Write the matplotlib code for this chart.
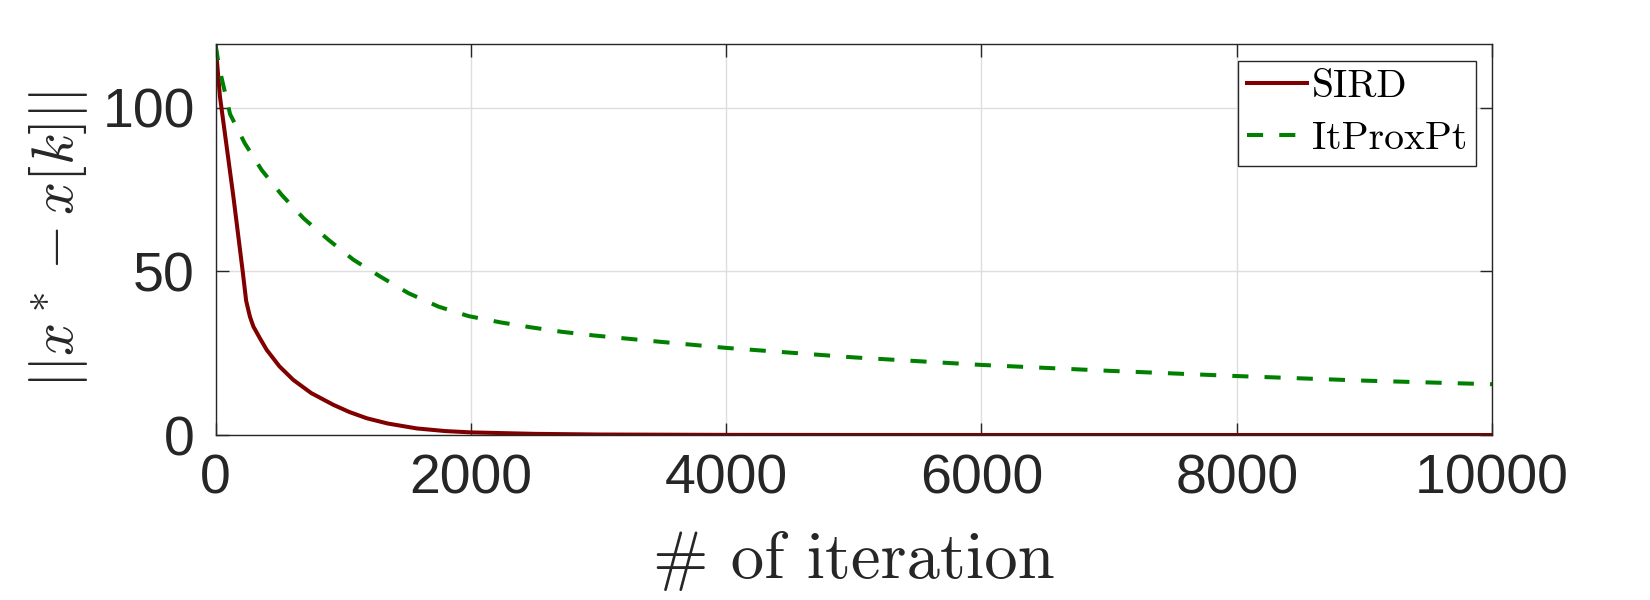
import matplotlib
matplotlib.use("Agg")
import matplotlib.pyplot as plt
from matplotlib.font_manager import FontProperties

# ---- data ----
sird_iter = [0, 35, 140, 213, 240, 257, 270, 297, 350, 401, 500, 610, 750, 924,
             1050, 1186, 1350, 1578, 1800, 2000, 2500, 3000, 4000, 5000, 7000, 10000]
sird_err = [119.3, 103.3, 72.8, 50.0, 41.0, 38.2, 36.1, 33.1, 29.4, 26.0, 21.0,
            16.8, 12.8, 9.2, 7.0, 5.1, 3.5, 2.0, 1.2, 0.8, 0.35, 0.15, 0.04,
            0.01, 0.0, 0.0]

prox_iter = [0, 30, 114, 229, 362, 519, 689, 885, 1081, 1290, 1512, 1747, 1983,
             2231, 2467, 2715, 2963, 3500, 4000, 5000, 6000, 7000, 8000, 9000, 10000]
prox_err = [119.3, 112.0, 98.0, 89.1, 80.9, 73.3, 66.2, 59.6, 53.5, 48.4, 43.3,
            39.2, 36.3, 34.4, 32.9, 31.5, 30.4, 28.4, 26.6, 23.7, 21.4, 19.6,
            18.0, 16.6, 15.5]

series_labels = ["SIRD", "ItProxPt"]
x_ticks = [0, 2000, 4000, 6000, 8000, 10000]
y_ticks = [0, 50, 100]
x_label = "# of iteration"
y_label = r"$||x^* - x[k]||$"

# ---- style ----
plt.rcParams["mathtext.fontset"] = "cm"
dark = "#262626"

fig = plt.figure(figsize=(16.5, 6.0), dpi=100, facecolor="white")
ax = fig.add_axes([215.5 / 1650, 1 - 435 / 600, (1492 - 215.5) / 1650, (435 - 44.3) / 600])

ax.plot(sird_iter, sird_err, color="#800000", lw=2.9, label=series_labels[0])
ax.plot(prox_iter, prox_err, color="#008000", lw=2.9, linestyle=(0, (4.0, 4.0)),
        label=series_labels[1])

ax.set_xlim(0, 10000)
ax.set_ylim(0, 119.3)
ax.set_xticks(x_ticks)
ax.set_yticks(y_ticks)
ax.set_xticklabels([str(t) for t in x_ticks])
ax.set_yticklabels([str(t) for t in y_ticks])

ax.grid(True, color="#dedede", lw=1.0)
ax.set_axisbelow(True)
for s in ax.spines.values():
    s.set_color(dark)
    s.set_linewidth(1.0)

ax.tick_params(axis="both", direction="in", length=9, width=1.0, color=dark,
               top=True, right=True, labelcolor=dark)
ax.tick_params(axis="x", pad=13)
ax.tick_params(axis="y", pad=15)
for lab in ax.get_xticklabels() + ax.get_yticklabels():
    lab.set_fontfamily("Liberation Sans")
    lab.set_fontsize(40)

ax.set_xlabel(x_label, fontfamily="cmr10", fontsize=48, color=dark)
ax.xaxis.set_label_coords(0.5, -0.245)
ax.xaxis.label.set_va("top")
ax.set_ylabel(y_label, fontsize=42, color=dark)
ax.yaxis.set_label_coords(-0.098, 0.5)

leg = ax.legend(loc="upper right", bbox_to_anchor=(1476 / 1650, 1 - 60.7 / 600),
                bbox_transform=fig.transFigure, borderaxespad=0,
                prop=FontProperties(family="cmr10", size=28.5),
                frameon=True, fancybox=False, shadow=False,
                handlelength=1.5, handletextpad=0.14, labelspacing=0.4,
                borderpad=0.22)
leg.get_frame().set_edgecolor(dark)
leg.get_frame().set_linewidth(1.0)
leg.get_frame().set_facecolor("white")
leg.get_frame().set_alpha(1.0)

fig.savefig("out.png", dpi=100, facecolor="white")
